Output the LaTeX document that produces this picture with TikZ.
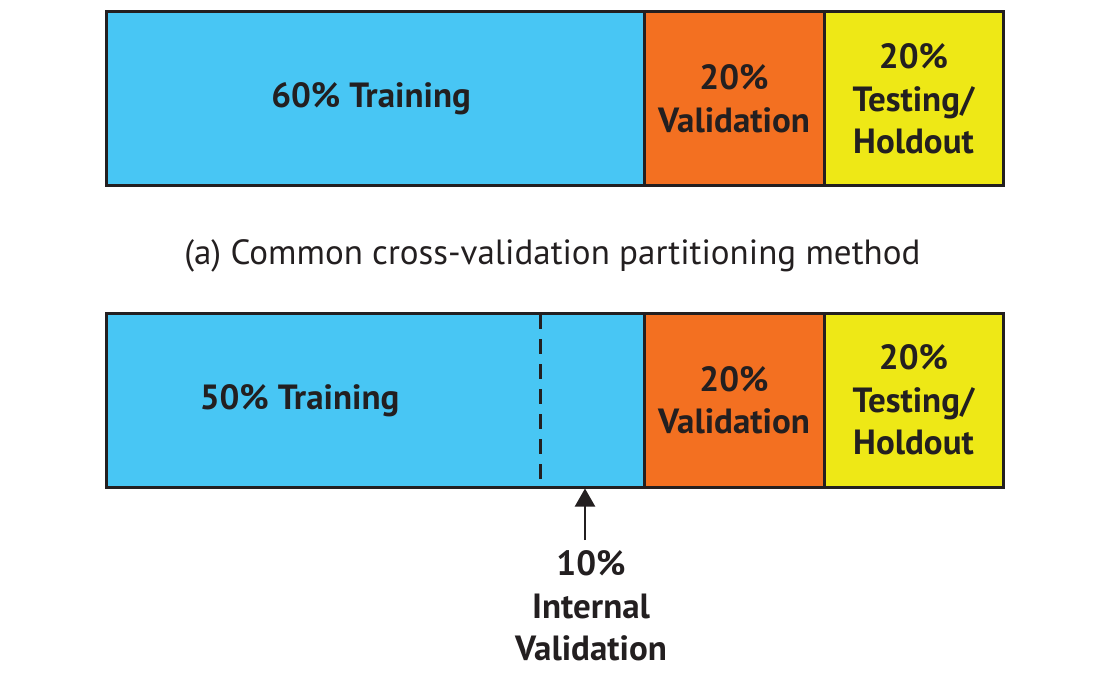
\documentclass[tikz,border=0pt]{standalone}
\usepackage{fontspec}
\setmainfont{PT Sans}
\usepackage{tikz}
\usetikzlibrary{arrows.meta}

\definecolor{trainblue}{HTML}{48C6F4}
\definecolor{validorange}{HTML}{F37021}
\definecolor{testyellow}{HTML}{EEE816}
\definecolor{edgeblack}{HTML}{231F20}

\begin{document}
\begin{tikzpicture}[x=1pt,y=-1pt,
    every path/.style={>={Triangle[length=18pt,width=20pt]}},
    part/.style={draw=edgeblack,line width=3pt,rectangle,inner sep=0pt,
      minimum height=174pt,align=center,text=edgeblack,
      font=\bfseries\fontsize{35}{42.5}\selectfont},
    lbl/.style={align=center,text=edgeblack,inner sep=0pt,
      font=\bfseries\fontsize{35}{42.5}\selectfont}]
  \useasboundingbox (0,0) rectangle (1106,679);
  % (a) common split
  \node[part,fill=trainblue,minimum width=538pt]   (train) at (375.5,99) { 60\% Training };
  \node[part,fill=validorange,minimum width=180pt] (valid) at (734,99)   { 20\%\\Validation };
  \node[part,fill=testyellow,minimum width=179pt]  (test)  at (913.5,99) { 20\%\\Testing/\\Holdout };
  \node[lbl,font=\fontsize{35}{40}\selectfont] (capa) at (557,256) { (a) Common cross-validation partitioning method };
  % (b) split with internal validation
  \node[part,fill=trainblue,minimum width=538pt]   (trainb) at (375.5,400) {};
  \node[part,fill=validorange,minimum width=180pt] (validb) at (734,400)   { 20\%\\Validation };
  \node[part,fill=testyellow,minimum width=179pt]  (testb)  at (913.5,400) { 20\%\\Testing/\\Holdout };
  \node[lbl] (trainlbl) at (304,401) { 50\% Training };
  \draw[edgeblack,line width=3pt,dash pattern=on 15pt off 10pt] (540,314) -- (540,487);
  \node[lbl] (internal) at (591,606) { 10\%\\Internal\\Validation };
  \coordinate (tip) at (585,488.5);
  \coordinate (tail) at (585,540);
  \draw[->,edgeblack,line width=2pt] (tail) -- (tip);
\end{tikzpicture}
\end{document}
